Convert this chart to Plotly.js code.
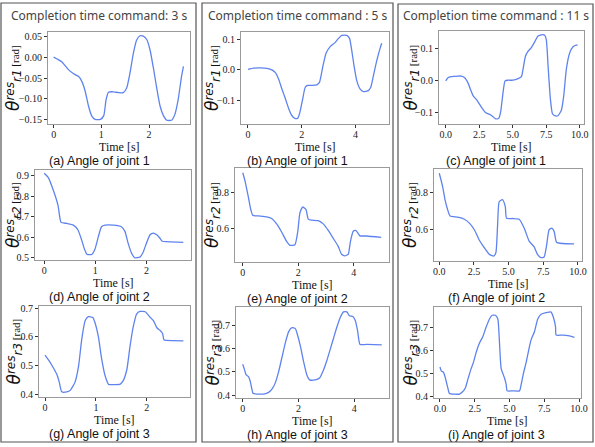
<!DOCTYPE html>
<html><head><meta charset="utf-8">
<script src="https://cdn.plot.ly/plotly-3.0.1.min.js"></script>
<style>html,body{margin:0;padding:0;background:#fff}#chart{width:595px;height:447px}</style>
</head><body><div id="chart"></div>
<script>
// ---------- DATA ----------
const colTitles = ["Completion time command: 3 s", "Completion time command : 5 s", "Completion time command : 11 s"];
const captions = ["(a) Angle of joint 1","(b) Angle of joint 1","(c) Angle of joint 1",
                  "(d) Angle of joint 2","(e) Angle of joint 2","(f) Angle of joint 2",
                  "(g) Angle of joint 3","(h) Angle of joint 3","(i) Angle of joint 3"];
const jointLabels = ["r1","r2","r3"];
const xTitle = "Time [s]";

// (a) joint 1, 3 s
const tA = [0,0.17,0.31,0.42,0.52,0.59,0.66,0.73,0.80,0.87,0.98,1.05,1.10,1.15,1.25,1.36,1.46,1.53,1.60,1.67,1.74,1.81,1.88,1.95,2.02,2.09,2.16,2.23,2.30,2.37,2.47,2.54,2.61,2.68,2.72];
const vA = [0,-0.011,-0.030,-0.040,-0.046,-0.058,-0.081,-0.117,-0.141,-0.149,-0.149,-0.140,-0.101,-0.084,-0.083,-0.085,-0.085,-0.074,-0.038,0.009,0.041,0.051,0.050,0.042,0.017,-0.026,-0.074,-0.117,-0.140,-0.151,-0.151,-0.137,-0.101,-0.046,-0.022];
// (b) joint 1, 5 s
const tB = [0,0.21,0.46,0.71,0.89,1.02,1.14,1.26,1.39,1.51,1.63,1.76,1.86,1.94,2.04,2.13,2.22,2.38,2.56,2.66,2.79,2.91,3.06,3.24,3.37,3.49,3.68,3.78,3.86,3.95,4.05,4.17,4.30,4.48,4.57,4.67,4.79,4.92,4.98];
const vB = [0.002,0.006,0.007,0.005,0,-0.009,-0.030,-0.062,-0.094,-0.126,-0.150,-0.160,-0.158,-0.137,-0.094,-0.057,-0.051,-0.051,-0.049,-0.041,0.013,0.056,0.077,0.090,0.104,0.114,0.114,0.104,0.066,0.013,-0.035,-0.062,-0.071,-0.068,-0.057,-0.019,0.029,0.072,0.088];
// (c) joint 1, 11 s
const tC = [0,0.17,0.42,0.92,1.17,1.42,1.67,1.84,2.04,2.34,2.66,2.99,3.28,3.53,3.73,3.96,4.10,4.28,4.43,4.65,5.02,5.40,5.65,5.77,5.95,6.14,6.39,6.64,6.89,7.14,7.39,7.51,7.64,7.81,7.96,8.13,8.38,8.63,8.81,9.00,9.25,9.50,9.75,9.85];
const vC = [0,0.010,0.013,0.015,0.015,0.010,-0.007,-0.026,-0.046,-0.061,-0.082,-0.100,-0.105,-0.112,-0.119,-0.117,-0.097,-0.036,0,0.002,0.002,0.007,0.013,0.036,0.077,0.092,0.104,0.122,0.140,0.144,0.143,0.128,0.046,-0.056,-0.102,-0.109,-0.109,-0.092,-0.046,0.036,0.087,0.107,0.112,0.112];
// (d) joint 2, 3 s
const tD = [0,0.08,0.18,0.27,0.33,0.44,0.57,0.66,0.73,0.79,0.84,0.93,0.99,1.06,1.12,1.19,1.35,1.51,1.58,1.64,1.71,1.77,1.87,1.93,2.00,2.07,2.13,2.20,2.26,2.31,2.39,2.59,2.72];
const vD = [0.911,0.890,0.827,0.755,0.672,0.667,0.659,0.635,0.588,0.540,0.516,0.516,0.540,0.604,0.651,0.659,0.659,0.651,0.627,0.571,0.521,0.500,0.503,0.524,0.572,0.612,0.620,0.612,0.596,0.580,0.578,0.576,0.575];
// (e) joint 2, 5 s
const tE = [0,0.08,0.20,0.29,0.36,0.56,0.86,1.04,1.22,1.40,1.58,1.70,1.88,1.98,2.06,2.16,2.28,2.36,2.48,2.72,2.90,3.08,3.26,3.44,3.56,3.68,3.80,3.88,3.98,4.07,4.16,4.22,4.46,4.99];
const vE = [0.915,0.869,0.778,0.705,0.673,0.669,0.664,0.655,0.624,0.578,0.524,0.502,0.505,0.578,0.687,0.720,0.705,0.651,0.645,0.642,0.624,0.587,0.542,0.496,0.451,0.442,0.451,0.524,0.582,0.587,0.569,0.556,0.555,0.547];
// (f) joint 2, 11 s
const tF = [0,0.25,0.42,0.61,0.78,1.33,1.81,2.17,2.53,2.89,3.25,3.61,3.92,4.08,4.20,4.32,4.56,4.76,4.85,5.28,5.76,6.12,6.48,6.84,7.08,7.32,7.56,7.73,7.92,8.11,8.28,8.45,8.88,9.72];
const vF = [0.907,0.832,0.761,0.707,0.675,0.668,0.657,0.636,0.600,0.543,0.502,0.466,0.457,0.475,0.618,0.752,0.764,0.725,0.662,0.661,0.657,0.609,0.538,0.507,0.466,0.448,0.452,0.511,0.600,0.609,0.591,0.532,0.525,0.523];
// (g) joint 3, 3 s
const tG = [0,0.085,0.16,0.23,0.28,0.33,0.43,0.50,0.59,0.66,0.72,0.79,0.85,0.94,0.98,1.05,1.11,1.18,1.25,1.34,1.48,1.54,1.61,1.67,1.74,1.80,1.87,1.97,2.07,2.13,2.20,2.26,2.31,2.34,2.39,2.72];
const vG = [0.536,0.515,0.493,0.470,0.442,0.408,0.408,0.414,0.442,0.498,0.589,0.657,0.671,0.668,0.651,0.600,0.527,0.465,0.434,0.433,0.435,0.448,0.487,0.566,0.640,0.680,0.689,0.688,0.668,0.657,0.632,0.623,0.612,0.589,0.588,0.586];
// (h) joint 3, 5 s
const tH = [0,0.06,0.12,0.21,0.27,0.33,0.37,0.51,0.75,0.93,1.05,1.17,1.29,1.41,1.53,1.65,1.77,1.89,1.95,2.07,2.19,2.30,2.40,2.60,2.76,2.90,3.02,3.14,3.26,3.38,3.50,3.62,3.74,3.83,3.95,4.04,4.12,4.21,4.45,4.99];
const vH = [0.533,0.512,0.488,0.480,0.460,0.426,0.408,0.405,0.405,0.412,0.426,0.453,0.501,0.563,0.625,0.673,0.690,0.686,0.666,0.611,0.542,0.488,0.466,0.466,0.474,0.508,0.549,0.597,0.645,0.693,0.734,0.758,0.758,0.741,0.738,0.721,0.679,0.618,0.618,0.616];
// (i) joint 3, 11 s
const tI = [0,0.10,0.25,0.39,0.56,0.68,1.04,1.40,1.64,1.83,2.00,2.24,2.41,2.60,2.84,3.08,3.32,3.56,3.75,3.99,4.16,4.28,4.40,4.64,4.76,4.83,5.24,5.72,5.84,6.00,6.20,6.39,6.55,6.79,7.03,7.27,7.63,7.99,8.16,8.31,8.35,8.83,9.31,9.67];
const vI = [0.529,0.511,0.506,0.481,0.439,0.414,0.411,0.411,0.422,0.439,0.474,0.522,0.550,0.592,0.633,0.661,0.703,0.738,0.754,0.754,0.738,0.633,0.522,0.481,0.453,0.425,0.425,0.425,0.453,0.501,0.550,0.606,0.647,0.682,0.738,0.758,0.765,0.768,0.744,0.703,0.668,0.668,0.664,0.658];

// tick values / labels
const xTicks3 = [0,1,2], xTickText3 = ["0","1","2"];
const xTicks5 = [0,2,4], xTickText5 = ["0","2","4"];
const xTicks11 = [0,2.5,5,7.5,10], xTickText11 = ["0.0","2.5","5.0","7.5","10.0"];
const yTicksA = [-0.15,-0.10,-0.05,0.00,0.05], yTickTextA = ["\u22120.15","\u22120.10","\u22120.05","0.00","0.05"];
const yTicksBC = [-0.1,0.0,0.1], yTickTextBC = ["\u22120.1","0.0","0.1"];
const yTicksD = [0.5,0.6,0.7,0.8,0.9], yTickTextD = ["0.5","0.6","0.7","0.8","0.9"];
const yTicksEF = [0.6,0.8], yTickTextEF = ["0.6","0.8"];
const yTicksGHI = [0.4,0.5,0.6,0.7], yTickTextGHI = ["0.4","0.5","0.6","0.7"];

// ---------- LAYOUT CONFIG ----------
const W = 595, H = 447;
const fx = p => p / W, fy = p => 1 - p / H;
const series = [[tA,vA],[tB,vB],[tC,vC],[tD,vD],[tE,vE],[tF,vF],[tG,vG],[tH,vH],[tI,vI]];
const xt = [[xTicks3,xTickText3],[xTicks5,xTickText5],[xTicks11,xTickText11]];
const yt = [[yTicksA,yTickTextA],[yTicksBC,yTickTextBC],[yTicksBC,yTickTextBC],
            [yTicksD,yTickTextD],[yTicksEF,yTickTextEF],[yTicksEF,yTickTextEF],
            [yTicksGHI,yTickTextGHI],[yTicksGHI,yTickTextGHI],[yTicksGHI,yTickTextGHI]];
// pixel boxes [x0,x1,y0,y1]
const boxes = [[48,190,32,124],[241,389,32,124],[439,584,31,124],
               [35,191,170,260],[235,389,168,262],[434,582,169,261],
               [39,190,306,397],[236,389,307,398],[434,581,307,398]];
const xr = [[-0.118,2.857],[-0.26,5.25],[-0.5,10.32],[-0.18,2.87],[-0.28,5.27],[-0.38,10.29],[-0.118,2.85],[-0.24,5.25],[-0.43,10.14]];
const yr = [[-0.160,0.060],[-0.178,0.125],[-0.135,0.156],[0.489,0.927],[0.407,0.942],[0.43,0.93],[0.39,0.708],[0.388,0.779],[0.394,0.79]];
const colCenters = [99, 297.5, 496];
const yTitleX = [14, 213, 411];

const SERIF = "Liberation Serif";
const traces = [];
const layout = {
  width: W, height: H, margin: {l:0,r:0,t:0,b:0},
  paper_bgcolor: "#fff", plot_bgcolor: "#fff", showlegend: false,
  annotations: [], shapes: []
};
const tickFont = {family: SERIF, size: 10, color: "#222"};

for (let i = 0; i < 9; i++) {
  const n = i === 0 ? "" : String(i + 1);
  const col = i % 3, row = Math.floor(i / 3);
  const b = boxes[i];
  traces.push({x: series[i][0], y: series[i][1], xaxis: "x" + n, yaxis: "y" + n,
    type: "scatter", mode: "lines", line: {color: "#5f83ee", width: 1.3, shape: "spline", smoothing: 0.5}, hoverinfo: "skip"});
  const axCommon = {showline: true, mirror: true, linecolor: "#9a9a9a", linewidth: 1,
    showgrid: false, zeroline: false, ticks: "outside", ticklen: 3, tickcolor: "#333", tickwidth: 1,
    tickfont: tickFont, tickmode: "array", fixedrange: true};
  layout["xaxis" + n] = Object.assign({}, axCommon, {domain: [fx(b[0]), fx(b[1])], anchor: "y" + n,
    range: xr[i], tickvals: xt[col][0], ticktext: xt[col][1], ticklabelstandoff: -2});
  layout["yaxis" + n] = Object.assign({}, axCommon, {domain: [fy(b[3]), fy(b[2])], anchor: "x" + n,
    range: yr[i], tickvals: yt[i][0], ticktext: yt[i][1]});
  // x title
  layout.annotations.push({xref: "paper", yref: "paper", x: fx((b[0] + b[1]) / 2), y: fy(b[3] + 23),
    text: xTitle, showarrow: false, xanchor: "center", yanchor: "middle",
    font: {family: SERIF, size: 12, color: "#111"}});
  // caption
  layout.annotations.push({xref: "paper", yref: "paper", x: fx(colCenters[col]), y: fy(b[3] + 37),
    text: captions[i], showarrow: false, xanchor: "center", yanchor: "middle",
    font: {family: "Liberation Sans", size: 12.5, color: "#111"}});
  // y title
  layout.annotations.push({xref: "paper", yref: "paper", x: fx(yTitleX[col]), y: fy((b[2] + b[3]) / 2),
    text: '<span style="font-family:DejaVu Sans;font-size:17px"><i>θ</i></span><sup><span style="font-family:DejaVu Sans;font-size:12px"><i>res</i></span></sup><sub><span style="font-family:DejaVu Sans;font-size:12px"><i>' + jointLabels[row] + '</i></span></sub><span style="font-size:11px"> [rad]</span>',
    showarrow: false, textangle: -90, xanchor: "center", yanchor: "middle",
    font: {family: SERIF, size: 11, color: "#111"}});
}
// column titles and frames
const frames = [[1,196,3,442],[202,393,3,442],[398,593,4,442]];
for (let c = 0; c < 3; c++) {
  layout.annotations.push({xref: "paper", yref: "paper", x: fx(colCenters[c]), y: fy(16),
    text: colTitles[c], showarrow: false, xanchor: "center", yanchor: "middle",
    font: {family: "Noto Sans", size: 12, color: "#444"}});
  const f = frames[c];
  layout.shapes.push({type: "rect", xref: "paper", yref: "paper", x0: fx(f[0]), x1: fx(f[1]), y0: fy(f[3]), y1: fy(f[2]),
    line: {color: "#555", width: 1.2}, fillcolor: "rgba(0,0,0,0)"});
}
Plotly.newPlot("chart", traces, layout, {staticPlot: true, displayModeBar: false});
</script></body></html>
